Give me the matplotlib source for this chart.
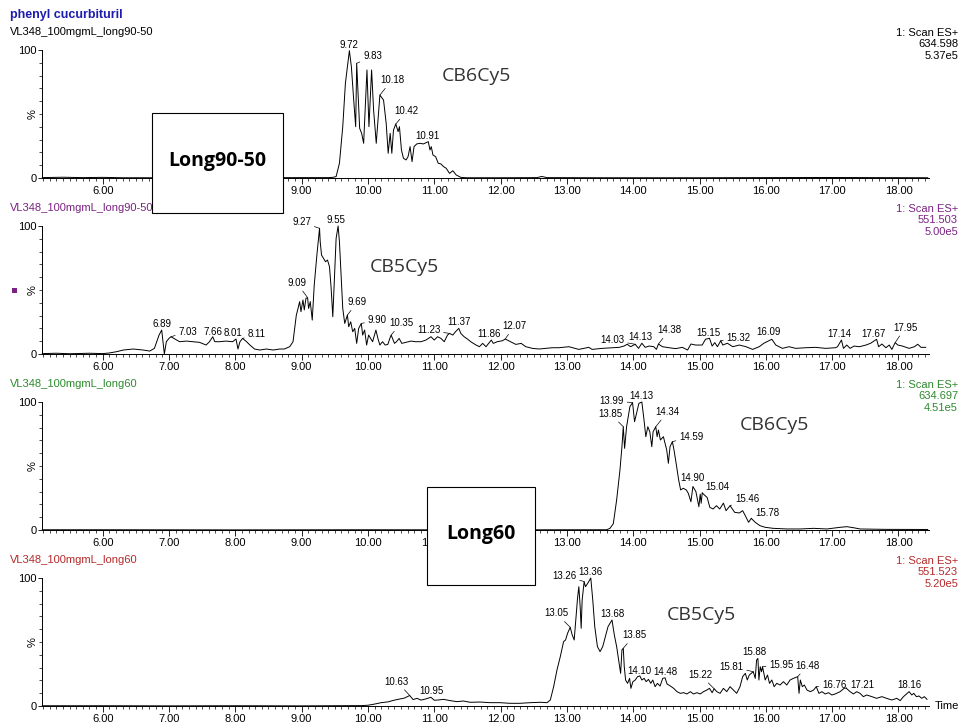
import numpy as np
import matplotlib
matplotlib.use("Agg")
import matplotlib.pyplot as plt
from matplotlib.patches import Rectangle
from matplotlib.ticker import MultipleLocator, FixedLocator, FixedFormatter

plt.rcParams['font.family'] = ['Liberation Sans', 'DejaVu Sans']

# ---------------- data (time [min], relative intensity [%]) ----------------
trace1 = [(5.09,0.3),(5.4,0.6),(5.7,0.3),(6.0,0.5),(6.3,0.2),(7.0,0.2),(8.0,0.2),(9.0,0.3),
          (9.40,0.3),(9.47,0.5),(9.52,1.1),(9.57,11.5),(9.62,40.1),(9.66,74.0),(9.72,99.5),
          (9.75,87.0),(9.785,61.0),(9.815,40.1),(9.83,89.6),(9.875,38.8),(9.905,34.9),(9.935,27.1),
          (9.985,84.4),(10.015,40.1),(10.055,84.4),(10.085,53.1),(10.125,27.1),(10.18,64.8),
          (10.235,60.9),(10.275,42.7),(10.305,19.3),(10.335,34.9),(10.36,19.3),(10.385,37.5),
          (10.42,42.2),(10.455,36.2),(10.475,40.1),(10.505,21.9),(10.535,15.4),(10.575,14.1),
          (10.605,16.7),(10.635,24.5),(10.665,12.8),(10.695,24.5),(10.735,26.6),(10.785,27.1),
          (10.835,26.6),(10.91,28.4),(10.935,21.9),(10.955,24.5),(10.98,18.0),(11.02,16.7),
          (11.06,11.5),(11.10,11.0),(11.14,8.9),(11.18,7.6),(11.23,3.6),(11.28,5.7),(11.33,2.4),
          (11.40,0.5),(11.48,0.2),(12.0,0.2),(12.55,0.3),(12.62,1.2),(12.70,0.3),(13.5,0.2),
          (15.0,0.2),(16.9,0.4),(18.44,0.2)]

trace2 = [(5.09,0.3),(5.3,0.6),(5.5,0.2),(5.8,0.6),(6.0,0.3),(6.1,0.8),(6.21,1.8),(6.31,3.1),
          (6.46,3.9),(6.61,3.1),(6.71,2.3),(6.78,4.4),(6.85,14.8),(6.89,18.7),(6.91,9.6),(6.93,0.0),
          (6.96,9.6),(7.0,12.2),(7.03,13.5),(7.08,12.0),(7.16,9.6),(7.26,10.1),(7.36,9.6),(7.46,9.1),
          (7.56,7.0),(7.61,9.6),(7.66,13.5),(7.69,9.6),(7.76,9.6),(7.86,10.1),(7.96,9.6),(8.01,11.7),
          (8.04,3.9),(8.07,9.6),(8.11,12.2),(8.17,9.6),(8.22,7.0),(8.29,3.9),(8.37,3.1),(8.47,3.9),
          (8.57,3.1),(8.67,3.9),(8.74,3.9),(8.82,5.7),(8.87,9.6),(8.92,30.4),(8.94,34.4),(8.97,40.9),
          (8.99,33.1),(9.02,42.2),(9.04,34.4),(9.065,43.5),(9.09,44.0),(9.105,35.6),(9.13,40.9),
          (9.16,26.5),(9.19,53.9),(9.23,77.3),(9.27,98.2),(9.28,87.7),(9.30,77.3),(9.33,74.7),
          (9.36,72.1),(9.39,73.4),(9.42,68.2),(9.445,51.3),(9.47,29.1),(9.495,59.1),(9.52,90.3),
          (9.55,100.0),(9.57,87.7),(9.60,56.5),(9.62,35.6),(9.65,23.9),(9.69,30.4),(9.71,21.3),
          (9.74,25.2),(9.77,17.4),(9.80,20.0),(9.83,8.3),(9.86,20.0),(9.90,23.9),(9.92,14.8),
          (9.95,18.7),(9.98,7.0),(10.01,14.8),(10.04,12.2),(10.07,9.6),(10.12,18.7),(10.15,12.2),
          (10.18,7.0),(10.22,9.6),(10.26,7.0),(10.30,7.5),(10.33,12.2),(10.35,14.8),(10.40,8.3),
          (10.43,9.6),(10.47,12.2),(10.51,8.3),(10.57,9.1),(10.65,10.1),(10.72,9.6),(10.80,9.6),
          (10.875,10.9),(10.95,13.5),(11.00,10.9),(11.05,13.5),(11.10,12.2),(11.15,9.6),(11.20,14.8),
          (11.23,16.1),(11.28,14.8),(11.32,17.4),(11.37,20.0),(11.40,16.1),(11.45,13.5),(11.50,11.7),
          (11.55,9.6),(11.63,7.0),(11.68,5.7),(11.73,8.3),(11.78,5.7),(11.82,8.3),(11.86,10.9),
          (11.89,8.3),(11.95,9.6),(12.03,10.4),(12.07,11.7),(12.15,9.6),(12.23,7.5),(12.31,8.3),
          (12.38,5.7),(12.48,4.4),(12.58,3.9),(12.68,4.4),(12.78,4.9),(12.88,4.9),(13.03,5.7),
          (13.18,3.6),(13.33,5.2),(13.38,3.6),(13.53,4.4),(13.68,4.9),(13.79,5.2),(13.86,6.2),
          (13.91,7.6),(13.96,5.7),(14.03,7.6),(14.08,4.4),(14.13,8.4),(14.18,5.2),(14.24,6.2),
          (14.31,5.7),(14.35,3.6),(14.38,7.8),(14.44,5.7),(14.54,4.9),(14.64,4.2),(14.74,5.2),
          (14.82,3.1),(14.87,7.8),(14.94,7.0),(15.04,7.0),(15.09,11.5),(15.15,12.3),(15.19,6.2),
          (15.23,8.9),(15.27,5.7),(15.32,10.4),(15.35,7.0),(15.42,8.4),(15.50,5.7),(15.60,7.0),
          (15.70,5.7),(15.80,3.6),(15.90,5.7),(15.97,8.4),(16.09,11.5),(16.15,7.0),(16.20,5.7),
          (16.25,4.4),(16.35,5.7),(16.45,4.4),(16.60,4.9),(16.75,5.2),(16.90,4.4),(17.05,4.9),
          (17.08,5.7),(17.14,10.9),(17.17,4.4),(17.22,7.0),(17.27,4.4),(17.33,6.2),(17.41,5.7),
          (17.51,7.0),(17.58,8.4),(17.67,11.5),(17.70,5.7),(17.75,7.8),(17.81,4.9),(17.86,7.0),
          (17.90,3.6),(17.95,8.9),(17.99,7.0),(18.06,6.2),(18.16,4.4),(18.24,5.7),(18.29,7.6),
          (18.34,5.2),(18.41,5.2)]

trace3 = [(5.09,0.2),(6.0,0.2),(8.0,0.1),(10.0,0.2),(12.0,0.1),(13.0,0.2),(13.60,0.2),(13.65,1.3),
          (13.70,5.0),(13.75,23.5),(13.80,46.9),(13.83,65.1),(13.85,80.7),(13.87,63.8),(13.90,80.7),
          (13.95,96.4),(13.99,99.5),(14.02,84.6),(14.05,91.1),(14.085,98.9),(14.13,100.0),
          (14.16,87.2),(14.19,72.9),(14.22,80.7),(14.25,76.8),(14.28,65.1),(14.30,76.8),(14.34,80.7),
          (14.36,72.9),(14.38,78.1),(14.41,70.3),(14.455,72.9),(14.505,62.5),(14.53,52.1),
          (14.555,65.1),(14.59,69.0),(14.615,62.5),(14.655,49.5),(14.685,39.1),(14.715,31.3),
          (14.755,32.6),(14.80,31.3),(14.83,28.7),(14.87,22.1),(14.90,34.0),(14.945,30.0),
          (14.99,18.2),(15.01,28.0),(15.025,20.9),(15.04,29.0),(15.08,27.0),(15.115,25.4),
          (15.155,17.7),(15.205,16.4),(15.255,19.0),(15.305,16.4),(15.36,21.0),(15.40,15.1),
          (15.44,17.7),(15.46,19.0),(15.53,13.8),(15.60,13.3),(15.65,15.1),(15.69,11.2),(15.74,6.0),
          (15.78,9.1),(15.84,6.0),(15.91,3.4),(15.99,2.1),(16.11,1.3),(16.32,0.8),(16.52,0.8),
          (16.72,1.3),(16.92,0.8),(17.12,2.1),(17.22,2.6),(17.32,1.8),(17.42,0.8),(17.8,0.5),
          (18.44,0.4)]

trace4 = [(5.09,0.2),(6.0,0.2),(7.0,0.1),(8.0,0.2),(9.0,0.1),(9.9,0.3),(10.0,0.6),(10.1,1.5),
          (10.2,2.6),(10.3,3.2),(10.4,4.6),(10.48,5.5),(10.55,6.2),(10.63,8.2),(10.68,5.0),
          (10.74,6.0),(10.80,4.6),(10.87,5.5),(10.95,6.8),(11.00,4.5),(11.06,4.7),(11.14,5.2),
          (11.24,4.2),(11.34,3.4),(11.44,3.9),(11.54,2.9),(11.69,3.1),(11.84,2.6),(11.99,2.6),
          (12.14,2.1),(12.29,2.1),(12.45,2.6),(12.60,2.9),(12.70,2.6),(12.75,4.7),(12.80,15.1),
          (12.85,28.1),(12.90,38.5),(12.95,50.3),(12.98,51.6),(13.01,56.8),(13.05,61.5),(13.08,55.5),
          (13.11,51.6),(13.13,64.6),(13.16,84.1),(13.18,93.2),(13.20,77.6),(13.215,60.7),(13.23,82.8),
          (13.26,97.2),(13.28,93.2),(13.31,95.5),(13.36,100.0),(13.39,82.8),(13.42,62.0),(13.46,46.4),
          (13.50,42.5),(13.54,46.4),(13.58,54.2),(13.62,62.0),(13.68,67.2),(13.715,55.5),(13.75,46.4),
          (13.78,35.9),(13.81,25.5),(13.83,43.8),(13.85,45.1),(13.865,30.7),(13.885,20.3),
          (13.915,17.7),(13.945,21.6),(13.965,13.8),(13.995,19.0),(14.03,20.3),(14.065,22.9),
          (14.10,23.5),(14.13,20.3),(14.165,21.6),(14.195,19.0),(14.23,20.8),(14.265,17.7),
          (14.295,20.3),(14.33,15.1),(14.365,17.7),(14.405,15.6),(14.445,21.6),(14.48,22.0),
          (14.51,17.2),(14.56,15.6),(14.61,13.8),(14.66,11.2),(14.71,9.9),(14.76,10.4),(14.81,9.4),
          (14.86,11.2),(14.91,9.4),(14.96,10.4),(15.01,9.4),(15.06,11.2),(15.11,12.5),(15.15,13.8),
          (15.19,10.4),(15.22,13.5),(15.26,11.2),(15.31,9.9),(15.36,13.8),(15.41,11.2),(15.46,15.1),
          (15.51,12.5),(15.56,9.9),(15.61,15.1),(15.65,22.9),(15.69,25.5),(15.72,20.3),(15.75,24.2),
          (15.81,26.8),(15.84,21.6),(15.86,35.9),(15.88,37.2),(15.895,20.3),(15.915,30.7),
          (15.935,26.8),(15.95,30.7),(15.99,20.3),(16.025,24.2),(16.055,17.7),(16.09,20.3),
          (16.125,15.1),(16.165,17.7),(16.215,16.4),(16.265,19.0),(16.315,16.4),(16.365,20.3),
          (16.415,21.6),(16.48,22.9),(16.50,9.9),(16.52,20.3),(16.55,15.1),(16.58,16.4),(16.62,12.5),
          (16.67,11.2),(16.72,12.5),(16.76,15.1),(16.80,9.9),(16.845,11.2),(16.895,9.4),(16.945,10.4),
          (16.995,8.6),(17.045,9.4),(17.12,11.2),(17.18,13.8),(17.21,14.0),(17.27,11.2),(17.32,9.4),
          (17.37,11.2),(17.42,9.9),(17.47,7.3),(17.52,8.6),(17.60,7.3),(17.67,6.0),(17.75,7.3),
          (17.82,6.0),(17.90,4.7),(17.975,6.0),(18.025,4.2),(18.075,7.3),(18.16,11.2),(18.20,8.6),
          (18.23,9.9),(18.27,7.3),(18.31,7.8),(18.35,6.0),(18.39,7.3),(18.43,5.2)]

peaks1 = [9.72, 9.83, 10.18, 10.42, 10.91]
peaks2 = [6.89, 7.03, 7.66, 8.01, 8.11, 9.09, 9.27, 9.55, 9.69, 9.90, 10.35, 11.23, 11.37,
          11.86, 12.07, 14.03, 14.13, 14.38, 15.15, 15.32, 16.09, 17.14, 17.67, 17.95]
peaks3 = [13.85, 13.99, 14.13, 14.34, 14.59, 14.90, 15.04, 15.46, 15.78]
peaks4 = [10.63, 10.95, 13.05, 13.26, 13.36, 13.68, 13.85, 14.10, 14.48, 15.22, 15.81, 15.88,
          15.95, 16.48, 16.76, 17.21, 18.16]

samples = ["VL348_100mgmL_long90-50", "VL348_100mgmL_long90-50",
           "VL348_100mgmL_long60", "VL348_100mgmL_long60"]
masses = ["634.598", "551.503", "634.697", "551.523"]
base_int = ["5.37e5", "5.00e5", "4.51e5", "5.20e5"]
compounds = ["CB6Cy5", "CB5Cy5", "CB6Cy5", "CB5Cy5"]
x_ticks = [6, 7, 8, 9, 10, 11, 12, 13, 14, 15, 16, 17, 18]

# ---------------- layout (pixels) ----------------
W, H = 963, 727
X0_PX, X1_PX = 42, 929
T0, T1 = 5.085, 18.46
ZERO_PX = [178, 354, 530, 706]
SPAN_PX = 128
hdr_colors = ['black', '#7b2383', '#2d8a2d', '#b42a2a']
cb_pos = [(442, 76), (370, 267), (740, 425), (667, 615)]
hidden_ticklabels = [[7, 8], [], [12], []]   # fully covered by the annotation boxes
label_offsets = [
    [(0, 6), (16, 7), (12, 15), (11, 13), (-1, 6)],
    [(0, 6), (17, 5), (0, 5), (-3, 6), (14, 4), (-11, 15), (-18, 6), (-2, 6), (10, 13), (16, 3),
     (10, 12), (-21, 3), (0, 6), (-2, 6), (9, 13), (-23, 4), (-1, 6), (11, 14), (-1, 5), (18, 3),
     (-3, 7), (-2, 6), (-3, 5), (10, 15)],
    [(-13, 13), (-21, 2), (0, 6), (12, 15), (19, 5), (0, 8), (15, 6), (17, 7), (16, 5)],
    [(-13, 14), (0, 6), (-14, 14), (-20, 6), (0, 6), (0, 6), (11, 13), (0, 5), (0, 6), (-14, 14),
     (-22, 5), (-4, 6), (19, 2), (10, 11), (18, 2), (16, 3), (0, 7)],
]


def fx(px):
    return px / W


def fy(py):
    return 1 - py / H


fig = plt.figure(figsize=(W / 100, H / 100), dpi=100)
fig.patch.set_facecolor('white')

traces = [trace1, trace2, trace3, trace4]
peaks = [peaks1, peaks2, peaks3, peaks4]

for k in range(4):
    z = ZERO_PX[k]
    ax = fig.add_axes([fx(X0_PX), fy(z), (X1_PX - X0_PX) / W, SPAN_PX / H])
    ax.set_facecolor('none')
    t, inten = np.array(traces[k]).T
    ax.plot(t, inten, color='black', lw=0.7, clip_on=False, zorder=3)
    ax.set_xlim(T0, T1)
    ax.set_ylim(0, 100)
    for s in ['top', 'right']:
        ax.spines[s].set_visible(False)
    ax.spines['left'].set_bounds(0, 100)
    ax.spines['left'].set_linewidth(0.7)
    ax.spines['bottom'].set_linewidth(0.7)
    ax.xaxis.set_major_locator(FixedLocator(x_ticks))
    ax.xaxis.set_major_formatter(FixedFormatter(
        ["" if v in hidden_ticklabels[k] else f"{v:.2f}" for v in x_ticks]))
    ax.xaxis.set_minor_locator(MultipleLocator(0.1))
    ax.yaxis.set_major_locator(FixedLocator([0, 100]))
    ax.yaxis.set_major_formatter(FixedFormatter(["0", "100"]))
    ax.yaxis.set_minor_locator(MultipleLocator(10))
    ax.tick_params(axis='x', which='major', length=4, width=0.6, labelsize=8, pad=1.5)
    ax.tick_params(axis='x', which='minor', length=2, width=0.5)
    ax.tick_params(axis='y', which='major', length=3, width=0.6, labelsize=8, pad=1)
    ax.tick_params(axis='y', which='minor', length=2, width=0.5)

    # peak labels
    for lt, (dx, dy) in zip(peaks[k], label_offsets[k]):
        m = (t >= lt - 0.025) & (t <= lt + 0.025)
        yv = inten[m].max() if m.any() else np.interp(lt, t, inten)
        leader = abs(dx) > 7 or dy > 9
        ax.annotate(f"{lt:.2f}", xy=(lt, yv), xytext=(dx, dy), textcoords='offset pixels',
                    ha='center', va='center', fontsize=7, annotation_clip=False, zorder=4,
                    arrowprops=dict(arrowstyle='-', lw=0.5, color='black', shrinkA=0.5, shrinkB=0)
                    if leader else None)

    top = z - SPAN_PX
    fig.text(fx(10), fy(top - 18), samples[k], color=hdr_colors[k], fontsize=8, ha='left', va='center')
    fig.text(fx(958), fy(top - 17), "1: Scan ES+", color=hdr_colors[k], fontsize=8, ha='right', va='center')
    fig.text(fx(958), fy(top - 6), masses[k], color=hdr_colors[k], fontsize=8, ha='right', va='center')
    fig.text(fx(958), fy(top + 6), base_int[k], color=hdr_colors[k], fontsize=8, ha='right', va='center')
    fig.text(fx(33), fy(z - 64), "%", fontsize=8, rotation=90, ha='center', va='center')
    cx, cy = cb_pos[k]
    fig.text(fx(cx), fy(cy), compounds[k], family='Open Sans', fontsize=14, color='#333333',
             ha='left', va='center')

fig.text(fx(10), fy(15), "phenyl cucurbituril", color='#1c1cae', fontsize=9, fontweight='bold',
         ha='left', va='center')
fig.text(fx(935), fy(706), "Time", fontsize=8, ha='left', va='center')

# purple marker
fig.add_artist(Rectangle((fx(11.5), fy(292.5)), 5 / W, 5 / H, transform=fig.transFigure,
                         facecolor='#7b2383', edgecolor='none'))

# annotation boxes
for (x0, y0, x1, y1), txt in [((152, 113, 283, 213), "Long90-50"), ((427, 487, 535, 585), "Long60")]:
    fig.add_artist(Rectangle((fx(x0), fy(y1)), (x1 - x0) / W, (y1 - y0) / H, transform=fig.transFigure,
                             facecolor='white', edgecolor='black', lw=0.8, zorder=10))
    fig.text(fx((x0 + x1) / 2), fy((y0 + y1) / 2 - 2), txt, family='Open Sans', fontweight='bold',
             fontsize=14, ha='center', va='center', zorder=11)

fig.savefig("out.png", dpi=100, facecolor='white')
